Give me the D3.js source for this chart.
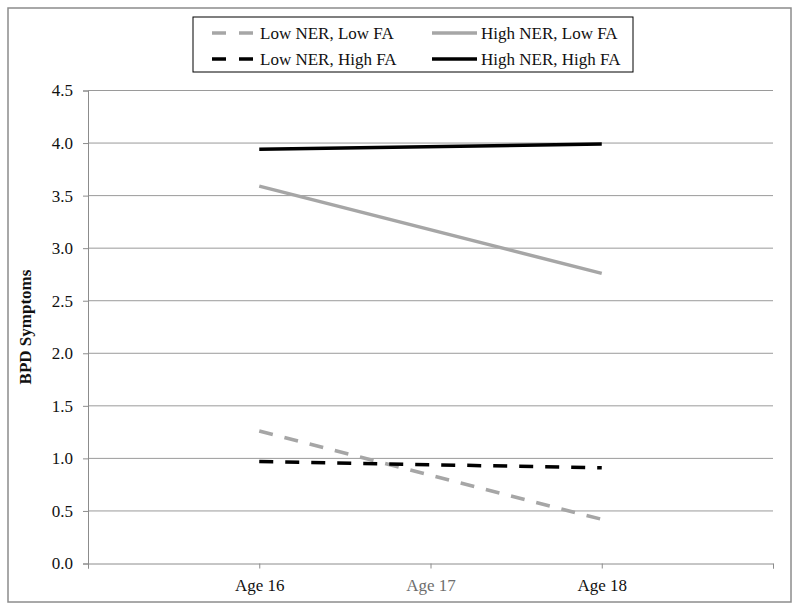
<!DOCTYPE html>
<html>
<head>
<meta charset="utf-8">
<script src="https://cdn.jsdelivr.net/npm/d3@7"></script>
<style>
  body { margin: 0; background: #fff; }
  svg { display: block; font-family: "Liberation Serif", "Times New Roman", serif; }
</style>
</head>
<body>
<svg id="chart" width="800" height="610"></svg>
<script>
// ages on the x axis, BPD symptom means
const ages = [16, 17, 18];
const ageLabels = ["Age 16", "Age 17", "Age 18"];
const yTicks = [0, 0.5, 1, 1.5, 2, 2.5, 3, 3.5, 4, 4.5];

const lowNerLowFa = [1.26, 0.42];
const lowNerHighFa = [0.97, 0.91];
const highNerLowFa = [3.59, 2.76];
const highNerHighFa = [3.94, 3.99];

const series = [
  { name: "Low NER, Low FA", values: lowNerLowFa, color: "#a6a6a6", dash: "14,12" },
  { name: "High NER, Low FA", values: highNerLowFa, color: "#a6a6a6", dash: null },
  { name: "Low NER, High FA", values: lowNerHighFa, color: "#000", dash: "14,12" },
  { name: "High NER, High FA", values: highNerHighFa, color: "#000", dash: null },
];
const seriesAges = [16, 18];

const svg = d3.select("#chart");
const margin = { top: 90.5, right: 27, bottom: 46.5, left: 88 };
const width = 800, height = 610;
const FONT = 17;

// outer frame
svg.append("rect")
  .attr("x", 8).attr("y", 8)
  .attr("width", 783).attr("height", 594)
  .attr("fill", "none")
  .attr("stroke", "#8c8c8c")
  .attr("stroke-width", 1.5);

const x = d3.scaleLinear().domain([15, 19]).range([margin.left, width - margin.right]);
const y = d3.scaleLinear().domain([0, 4.5]).range([height - margin.bottom, margin.top]);

// gridlines
svg.append("g")
  .selectAll("line")
  .data(yTicks.filter(d => d > 0))
  .join("line")
  .attr("x1", x(15)).attr("x2", x(19))
  .attr("y1", d => y(d)).attr("y2", d => y(d))
  .attr("stroke", "#9a9a9a")
  .attr("stroke-width", 1);

// y axis
const yAxis = svg.append("g")
  .attr("transform", `translate(${x(15)},0)`)
  .call(d3.axisLeft(y).tickValues(yTicks).tickFormat(d3.format(".1f")).tickSize(5).tickPadding(10));
yAxis.select(".domain").attr("stroke", "#8c8c8c");
yAxis.selectAll(".tick line").attr("stroke", "#8c8c8c");
yAxis.selectAll(".tick text").attr("font-size", FONT).attr("fill", "#111")
  .attr("font-family", "Liberation Serif, serif");

// x axis
const xAxis = svg.append("g")
  .attr("transform", `translate(0,${y(0)})`)
  .call(d3.axisBottom(x).tickValues([15, 16, 17, 18, 19]).tickSize(5).tickPadding(10)
    .tickFormat(d => { const i = ages.indexOf(d); return i >= 0 ? ageLabels[i] : ""; }));
xAxis.select(".domain").attr("stroke", "#8c8c8c");
xAxis.selectAll(".tick line").attr("stroke", "#8c8c8c");
xAxis.selectAll(".tick text").attr("font-size", FONT)
  .attr("font-family", "Liberation Serif, serif")
  .attr("fill", d => d === 17 ? "#6e6e6e" : "#111");

// y axis title
svg.append("text")
  .attr("transform", `translate(31,${(y(0) + y(4.5)) / 2}) rotate(-90)`)
  .attr("text-anchor", "middle")
  .attr("font-size", FONT)
  .attr("font-weight", "bold")
  .attr("fill", "#111")
  .text("BPD Symptoms");

// lines
const line = d3.line().x((d, i) => x(seriesAges[i])).y(d => y(d));
svg.append("g")
  .selectAll("path")
  .data(series)
  .join("path")
  .attr("d", d => line(d.values))
  .attr("fill", "none")
  .attr("stroke", d => d.color)
  .attr("stroke-width", 3.5)
  .attr("stroke-dasharray", d => d.dash);

// legend
const legend = svg.append("g");
legend.append("rect")
  .attr("x", 193).attr("y", 17)
  .attr("width", 440).attr("height", 55)
  .attr("fill", "#fff")
  .attr("stroke", "#000")
  .attr("stroke-width", 1);

const legendPos = [
  { x: 212, y: 33 }, { x: 432, y: 33 },
  { x: 212, y: 59 }, { x: 432, y: 59 },
];
series.forEach((s, i) => {
  const p = legendPos[i];
  legend.append("line")
    .attr("x1", p.x).attr("x2", p.x + 45)
    .attr("y1", p.y).attr("y2", p.y)
    .attr("stroke", s.color)
    .attr("stroke-width", 3.5)
    .attr("stroke-dasharray", s.dash ? "14,13" : null);
  legend.append("text")
    .attr("x", i % 2 === 0 ? p.x + 48 : p.x + 49)
    .attr("y", p.y)
    .attr("dy", "0.35em")
    .attr("font-size", FONT)
    .attr("fill", "#111")
    .text(s.name);
});
</script>
</body>
</html>
